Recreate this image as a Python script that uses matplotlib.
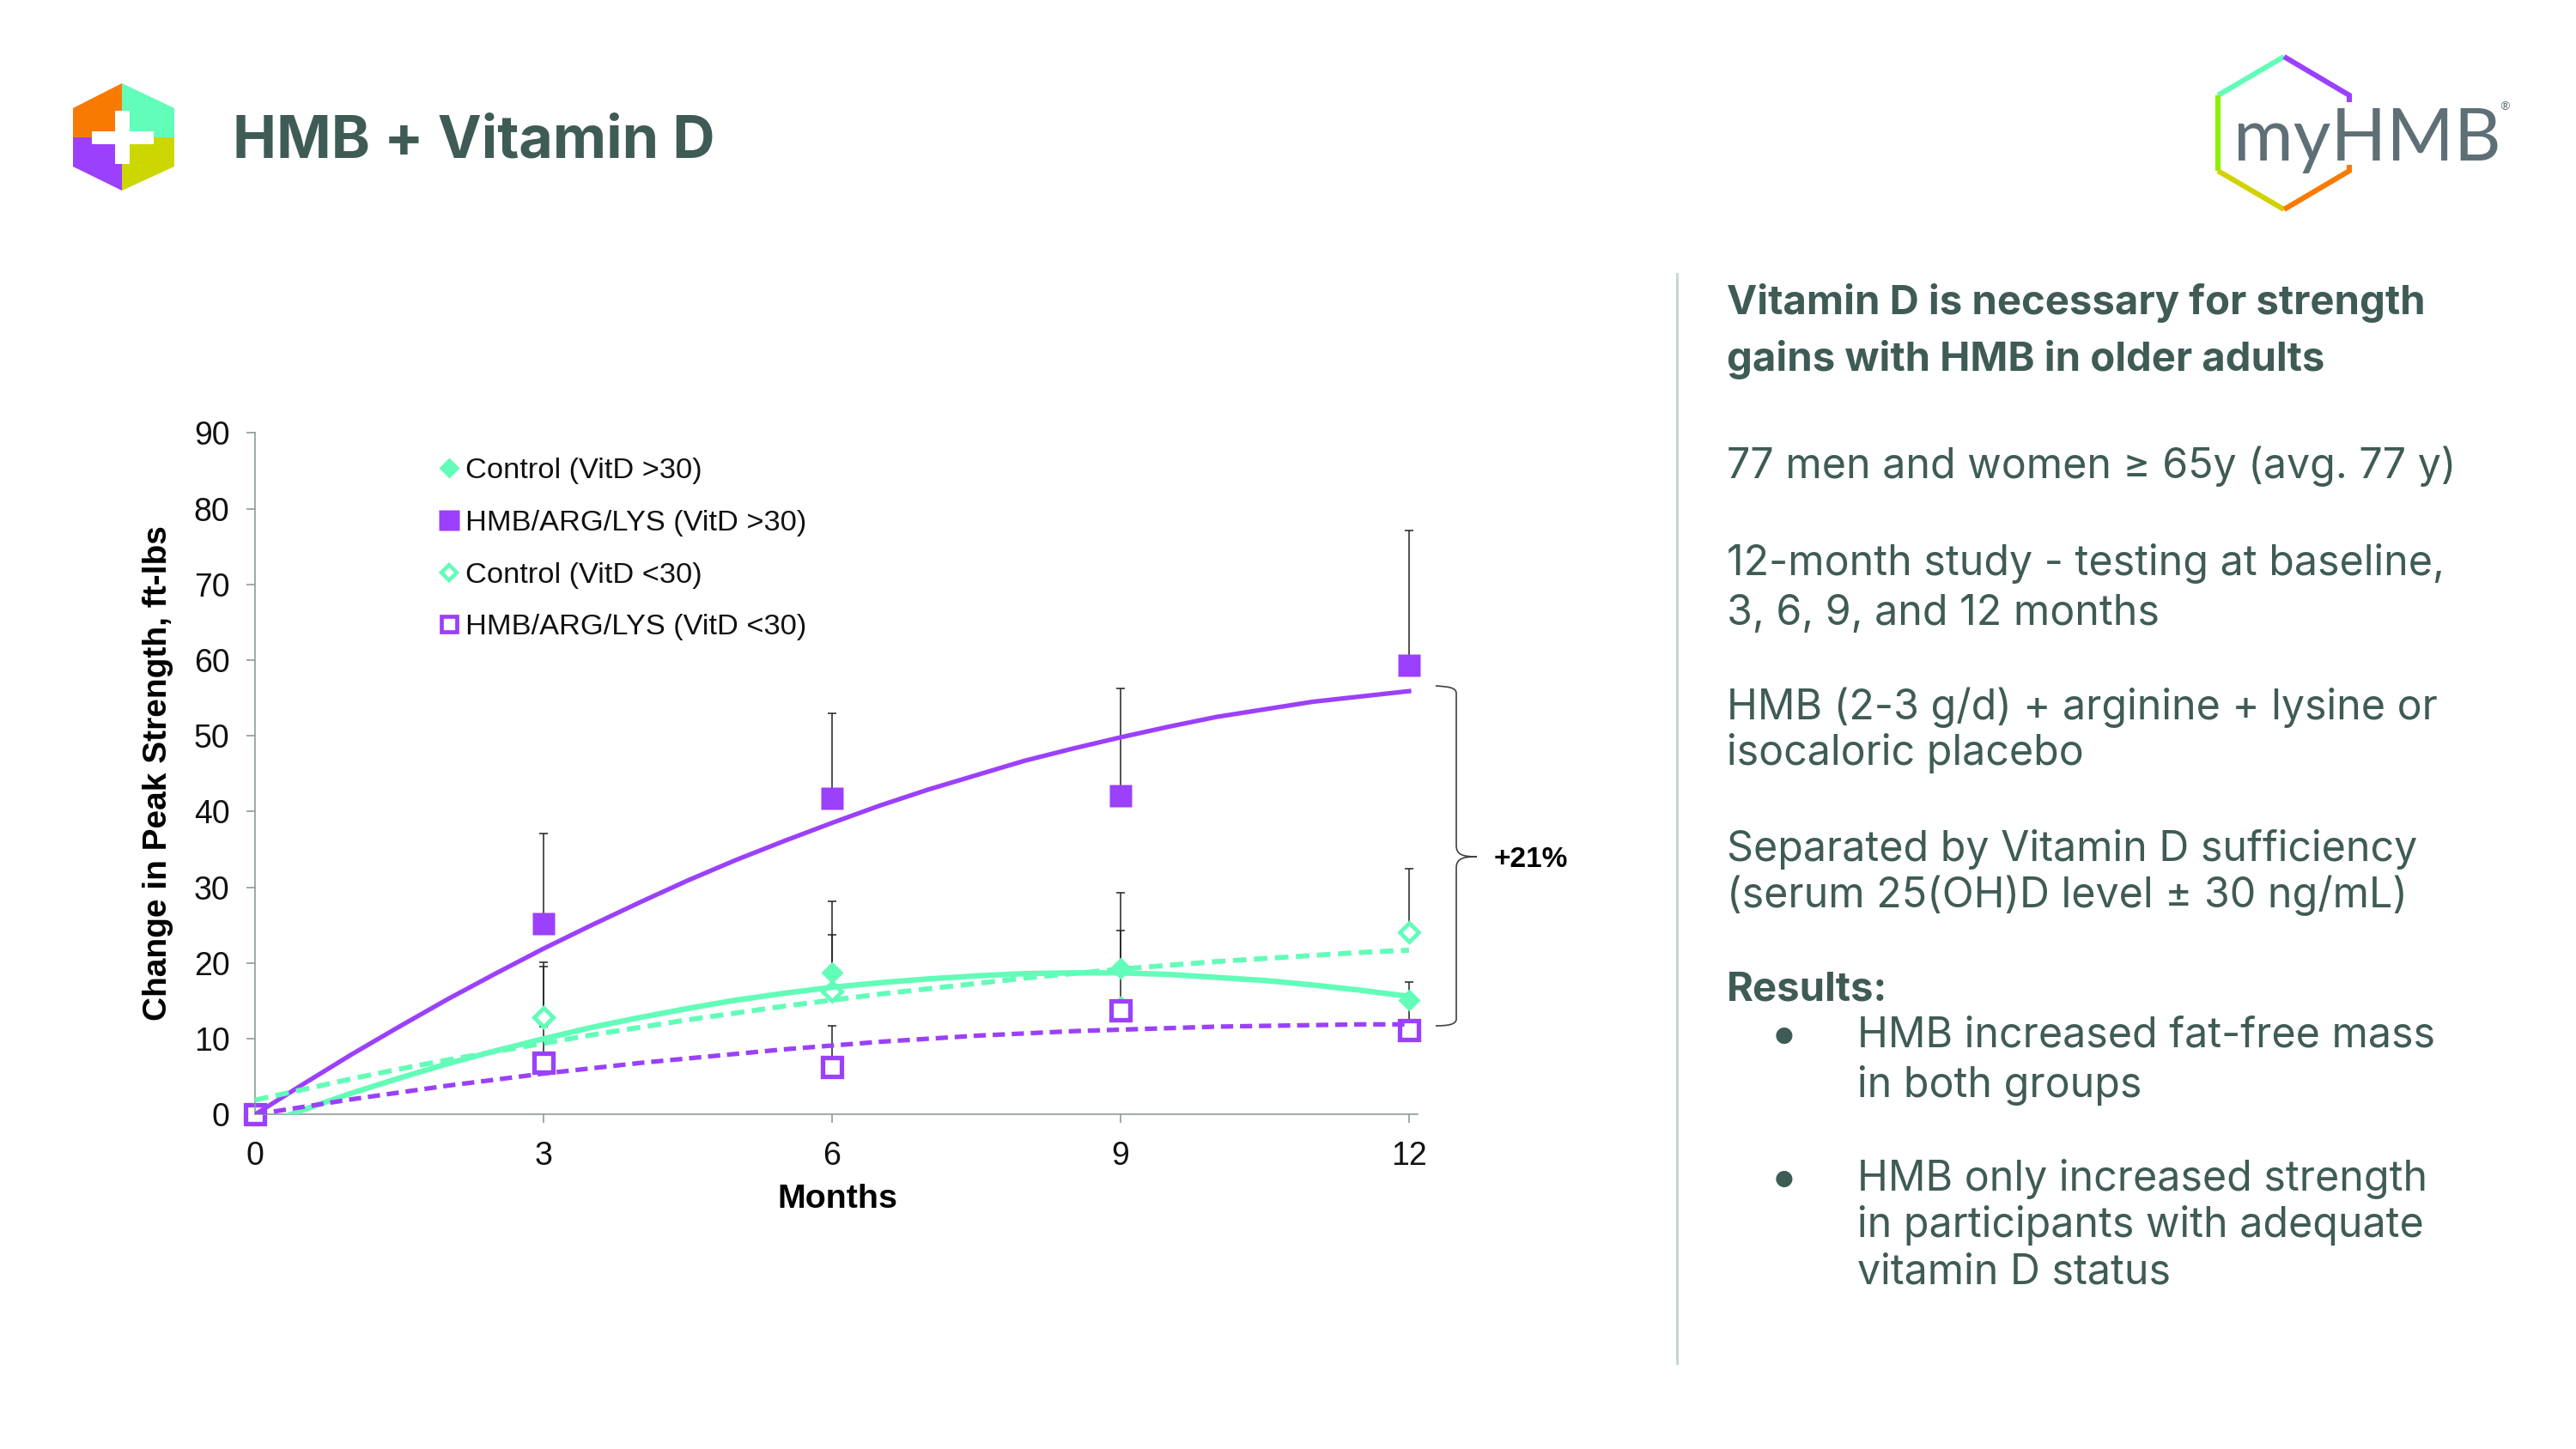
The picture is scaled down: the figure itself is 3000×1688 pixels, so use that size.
#!/usr/bin/env python3
"""HMB + Vitamin D slide: change in peak strength over 12 months by group."""

import matplotlib
matplotlib.use("Agg")
import matplotlib.pyplot as plt
from matplotlib.lines import Line2D
from matplotlib.patches import Polygon, Rectangle, PathPatch
from matplotlib.path import Path

# ── Data ──
visit_months = [0, 3, 6, 9, 12]
control_hi = [0, 12.8, 18.7, 19.3, 15.1]
hmb_hi = [0, 25.2, 41.7, 42.1, 59.3]
control_lo = [0, 12.8, 16.2, 14.1, 24.1]
hmb_lo = [0, 6.8, 6.3, 13.7, 11.1]

# upper end of the error bars
control_hi_top = [0, 19.5, 28.2, 29.3, 17.5]
hmb_hi_top = [0, 37.1, 53.0, 56.2, 77.1]
control_lo_top = [0, 20.1, 23.7, 24.3, 32.4]
hmb_lo_top = [0, 11.6, 11.7, 13.7, 15.0]

trend_months = [0, 0.5, 1, 1.5, 2, 2.5, 3, 3.5, 4, 4.5, 5, 5.5, 6,
                6.5, 7, 7.5, 8, 8.5, 9, 9.5, 10, 10.5, 11, 11.5, 12]
control_hi_trend = [-1.7, 0.6, 2.8, 4.8, 6.7, 8.4, 10.0, 11.5, 12.8, 14.0, 15.1, 16.0, 16.8,
                    17.4, 17.9, 18.3, 18.6, 18.7, 18.7, 18.5, 18.1, 17.7, 17.1, 16.4, 15.6]
hmb_hi_trend = [0, 4.0, 7.9, 11.6, 15.2, 18.6, 21.9, 25.0, 28.0, 30.9, 33.6, 36.1, 38.5,
                40.8, 42.9, 44.8, 46.7, 48.3, 49.8, 51.2, 52.5, 53.5, 54.5, 55.2, 55.9]
control_lo_trend = [1.9, 3.3, 4.7, 6.0, 7.2, 8.3, 9.4, 10.5, 11.5, 12.5, 13.4, 14.3, 15.1,
                    15.9, 16.6, 17.3, 18.0, 18.6, 19.2, 19.7, 20.2, 20.6, 21.0, 21.4, 21.7]
hmb_lo_trend = [0, 1.0, 2.0, 2.9, 3.8, 4.6, 5.4, 6.1, 6.8, 7.4, 8.0, 8.6, 9.1,
                9.6, 10.0, 10.4, 10.7, 11.0, 11.2, 11.4, 11.6, 11.7, 11.8, 11.9, 11.9]

x_ticks = [0, 3, 6, 9, 12]
y_ticks = [0, 10, 20, 30, 40, 50, 60, 70, 80, 90]

# ── Style ──
MINT = "#62FDB8"
PURPLE = "#9B40FC"
ORANGE = "#F97A00"
OLIVE = "#CCD600"
TEXT = "#3F5B55"
AXIS = "#8C9C9C"
W, H = 3000, 1688
CHART_FONT = "Liberation Sans"
SLIDE_FONT = "Inter"

plt.rcParams.update({
    "font.family": CHART_FONT,
    "font.size": 13.5,
})

fig = plt.figure(figsize=(W / 200, H / 200), dpi=200, facecolor="white")

# full-slide layer in pixel coordinates for logos, text panel and brace
bg = fig.add_axes([0, 0, 1, 1])
bg.set_xlim(0, W)
bg.set_ylim(H, 0)
bg.axis("off")

# ── Left logo ──
top, bottom = (142, 97), (142, 222)
bg.add_patch(Polygon([top, (142, 160), (85, 160), (85, 126)], fc=ORANGE, ec="none"))
bg.add_patch(Polygon([top, (203, 126), (203, 160), (142, 160)], fc=MINT, ec="none"))
bg.add_patch(Polygon([(85, 160), (142, 160), bottom, (85, 194)], fc=PURPLE, ec="none"))
bg.add_patch(Polygon([(142, 160), (203, 160), (203, 194), bottom], fc=OLIVE, ec="none"))
bg.add_patch(Rectangle((134, 129), 17, 62, fc="white", ec="none"))
bg.add_patch(Rectangle((107, 153), 72, 15, fc="white", ec="none"))

bg.text(271, 183, "HMB + Vitamin D", fontsize=24.6, fontweight="bold",
        family=SLIDE_FONT, color=TEXT, va="baseline")

# ── Right logo ──
hex_segments = [
    ([(2660, 66), (2583, 111)], MINT),
    ([(2660, 66), (2736, 111), (2736, 119)], PURPLE),
    ([(2583, 111), (2583, 199)], "#8CF000"),
    ([(2583, 199), (2660, 244)], "#D2D200"),
    ([(2660, 244), (2736, 199), (2736, 192)], ORANGE),
]
for pts, col in hex_segments:
    bg.plot([p[0] for p in pts], [p[1] for p in pts], color=col, lw=2.2,
            solid_capstyle="butt", solid_joinstyle="miter")
bg.text(2601, 187, "myHMB", fontsize=30.5, family="Lato", fontweight="normal",
        color="#5E7076", va="baseline")
bg.text(2917, 124, "®", fontsize=5, family="Lato", color="#5E7076",
        ha="center", va="center")

# ── Right panel ──
bg.plot([1953, 1953], [319, 1588], color="#C8D6D4", lw=1.1)

panel_lines = [
    ("Vitamin D is necessary for strength", 2011, 366, "bold"),
    ("gains with HMB in older adults", 2011, 432, "bold"),
    ("77 men and women ≥ 65y (avg. 77 y)", 2011, 557, "normal"),
    ("12-month study - testing at baseline,", 2011, 670, "normal"),
    ("3, 6, 9, and 12 months", 2011, 728, "normal"),
    ("HMB (2-3 g/d) + arginine + lysine or", 2011, 838, "normal"),
    ("isocaloric placebo", 2011, 891, "normal"),
    ("Separated by Vitamin D sufficiency", 2011, 1003, "normal"),
    ("(serum 25(OH)D level ± 30 ng/mL)", 2011, 1057, "normal"),
    ("Results:", 2011, 1166, "bold"),
    ("HMB increased fat-free mass", 2163, 1220, "normal"),
    ("in both groups", 2163, 1278, "normal"),
    ("HMB only increased strength", 2163, 1387, "normal"),
    ("in participants with adequate", 2163, 1441, "normal"),
    ("vitamin D status", 2163, 1495, "normal"),
]
for txt, x, y, weight in panel_lines:
    bg.text(x, y, txt, fontsize=17 if weight == "bold" else 17.4, family=SLIDE_FONT,
            fontweight=weight, color=TEXT, va="baseline")
for y in (1206, 1373):
    bg.text(2078, y, "●", fontsize=9, family="DejaVu Sans", color=TEXT,
            ha="center", va="center")

# ── Brace and annotation ──
brace = Path(
    [(1672, 799), (1688, 800), (1696, 801), (1696, 808),
     (1696, 985),
     (1696, 996), (1704, 998), (1720, 998),
     (1704, 998), (1696, 1000), (1696, 1011),
     (1696, 1187),
     (1696, 1193), (1688, 1195), (1672, 1195)],
    [Path.MOVETO, Path.CURVE4, Path.CURVE4, Path.CURVE4,
     Path.LINETO,
     Path.CURVE4, Path.CURVE4, Path.CURVE4,
     Path.CURVE4, Path.CURVE4, Path.CURVE4,
     Path.LINETO,
     Path.CURVE4, Path.CURVE4, Path.CURVE4],
)
bg.add_patch(PathPatch(brace, fc="none", ec="0.25", lw=0.6))
bg.text(1740, 1010, "+21%", fontsize=12, fontweight="bold", color="black",
        family=CHART_FONT, va="baseline")

# ── Chart ──
x0, x1, y0, y1 = 297, 1651, 1298.3, 504.3
ax = fig.add_axes([x0 / W, 1 - y0 / H, (x1 - x0) / W, (y0 - y1) / H])
ax.patch.set_visible(False)
ax.set_xlim(0, 12.09)
ax.set_ylim(0, 90)

for vals, tops in [(control_hi, control_hi_top), (hmb_hi, hmb_hi_top),
                   (control_lo, control_lo_top), (hmb_lo, hmb_lo_top)]:
    ups = [t - v for t, v in zip(tops, vals)]
    ax.errorbar(visit_months[1:], vals[1:], yerr=[[0] * 4, ups[1:]], fmt="none",
                ecolor="#222222", elinewidth=0.55, capsize=1.8, capthick=0.55, zorder=1)

# open markers sit under the trend lines, filled ones over them
ms_d, ms_s = 6.8, 9.4
ax.plot(visit_months, control_lo, ls="none", marker="D", ms=ms_d - 1.2, mfc="white",
        mec=MINT, mew=1.7, zorder=2, clip_on=False)
ax.plot(visit_months, hmb_lo, ls="none", marker="s", ms=ms_s - 1.8, mfc="white",
        mec=PURPLE, mew=1.9, zorder=2.1, clip_on=False)

dashes = (0, (2.7, 1.5))
ax.plot(trend_months, control_hi_trend, color=MINT, lw=2.3, zorder=3)
ax.plot(trend_months, hmb_hi_trend, color=PURPLE, lw=1.9, zorder=3)
ax.plot(trend_months, control_lo_trend, color=MINT, lw=2.1, ls=dashes, zorder=3)
ax.plot(trend_months, hmb_lo_trend, color=PURPLE, lw=1.9, ls=dashes, zorder=3)

ax.plot(visit_months[1:], control_hi[1:], ls="none", marker="D", ms=ms_d, mfc=MINT,
        mec="none", zorder=4, clip_on=False)
ax.plot(visit_months[1:], hmb_hi[1:], ls="none", marker="s", ms=ms_s, mfc=PURPLE,
        mec="none", zorder=4, clip_on=False)
# the open point at month 3 covers the filled control point
ax.plot(visit_months[1], control_lo[1], ls="none", marker="D", ms=ms_d - 1.2, mfc="white",
        mec=MINT, mew=1.7, zorder=4.1)

ax.set_xticks(x_ticks)
ax.set_yticks(y_ticks)
for side in ("top", "right"):
    ax.spines[side].set_visible(False)
for side in ("left", "bottom"):
    ax.spines[side].set_color(AXIS)
    ax.spines[side].set_linewidth(0.6)
ax.tick_params(axis="both", color=AXIS, width=0.6, length=3.6, labelsize=13.5,
               labelcolor="#111111")
ax.tick_params(axis="x", pad=7.5)
ax.tick_params(axis="y", pad=7)

bg.text(975, 1397, "Months", fontsize=14.2, fontweight="bold", family=CHART_FONT,
        ha="center", va="center", color="black")
bg.text(184, 901, "Change in Peak Strength, ft-lbs", fontsize=14, fontweight="bold",
        family=CHART_FONT, rotation=90, ha="center", va="center", color="black")

# ── Legend ──
legend_handles = [
    Line2D([], [], ls="none", marker="D", ms=6.0, mfc=MINT, mec="none",
           label="Control (VitD >30)"),
    Line2D([], [], ls="none", marker="s", ms=8.4, mfc=PURPLE, mec="none",
           label="HMB/ARG/LYS (VitD >30)"),
    Line2D([], [], ls="none", marker="D", ms=4.8, mfc="white", mec=MINT, mew=1.6,
           label="Control (VitD <30)"),
    Line2D([], [], ls="none", marker="s", ms=6.8, mfc="white", mec=PURPLE, mew=1.7,
           label="HMB/ARG/LYS (VitD <30)"),
]
leg = ax.legend(handles=legend_handles, loc="upper left", frameon=False, fontsize=12.4,
                bbox_to_anchor=((506 - x0) / (x1 - x0), 1 - (533 - y1) / (y0 - y1)),
                borderaxespad=0, borderpad=0, handlelength=1.0, handletextpad=0.05,
                labelspacing=0.86)
for t in leg.get_texts():
    t.set_color("#111111")

fig.savefig("out.png", dpi=200, facecolor="white")
print("Saved: out.png")
plt.close()
